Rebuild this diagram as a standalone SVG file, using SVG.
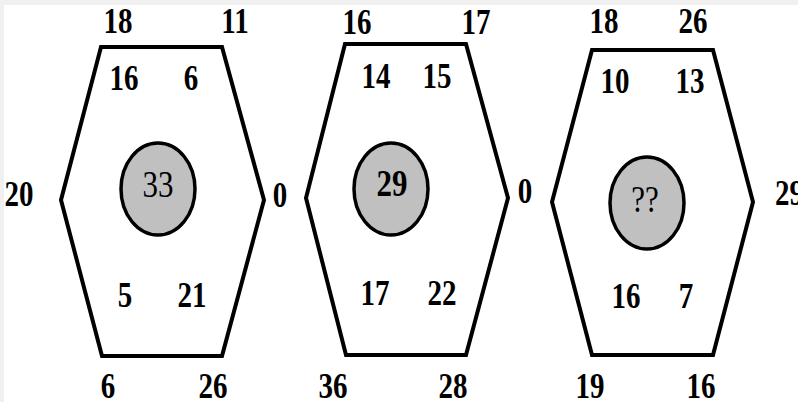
<svg xmlns="http://www.w3.org/2000/svg" width="798" height="402" viewBox="0 0 798 402">
<style>
.hex{fill:#fff;stroke:#000;stroke-width:4;stroke-linejoin:miter}
.core{fill:#c0c0c0;stroke:#000;stroke-width:3.5}
text{font-family:"Liberation Serif","Times New Roman",serif;text-anchor:middle;fill:#000}
.n{font-size:29px;font-weight:bold}
.c{font-size:31px}
.cb{font-size:31px;font-weight:bold}
</style>
<rect x="0" y="0" width="798" height="402" fill="#f0f0f0"/>
<rect x="4" y="5" width="794" height="397" fill="#fff"/>
<g id="hex1">
<polygon class="hex" points="101,47 222,47 264,200 222,356 102,356 61,200"/>
<ellipse class="core" cx="158" cy="189" rx="37" ry="46"/>
<text class="c" transform="matrix(1,0,0,1.2,158,197)">33</text>
<text class="n" transform="matrix(1,0,0,1.2,118,33)">18</text>
<text class="n" transform="matrix(1,0,0,1.2,235,33)">11</text>
<text class="n" transform="matrix(1,0,0,1.2,124,90)">16</text>
<text class="n" transform="matrix(1,0,0,1.2,191,90)">6</text>
<text class="n" transform="matrix(1,0,0,1.2,19,206)">20</text>
<text class="n" transform="matrix(1,0,0,1.2,280,207)">0</text>
<text class="n" transform="matrix(1,0,0,1.2,125,307)">5</text>
<text class="n" transform="matrix(1,0,0,1.2,192,307)">21</text>
<text class="n" transform="matrix(1,0,0,1.2,108,398)">6</text>
<text class="n" transform="matrix(1,0,0,1.2,213,398)">26</text>
</g>
<g id="hex2">
<polygon class="hex" points="345,44 466,44 508,198 466,355 346,355 306,198"/>
<ellipse class="core" cx="391" cy="189" rx="37" ry="46"/>
<text class="cb" transform="matrix(1,0,0,1.2,392,196)">29</text>
<text class="n" transform="matrix(1,0,0,1.2,357,34)">16</text>
<text class="n" transform="matrix(1,0,0,1.2,476,34)">17</text>
<text class="n" transform="matrix(1,0,0,1.2,376,88)">14</text>
<text class="n" transform="matrix(1,0,0,1.2,437,88)">15</text>
<text class="n" transform="matrix(1,0,0,1.2,525,203)">0</text>
<text class="n" transform="matrix(1,0,0,1.2,375,305)">17</text>
<text class="n" transform="matrix(1,0,0,1.2,442,305)">22</text>
<text class="n" transform="matrix(1,0,0,1.2,333,398)">36</text>
<text class="n" transform="matrix(1,0,0,1.2,453,398)">28</text>
</g>
<g id="hex3">
<polygon class="hex" points="592,50 713,50 753,202 713,355 592,355 552,202"/>
<ellipse class="core" cx="647" cy="203" rx="37" ry="46"/>
<text class="c" transform="matrix(1,0,0,1.2,645,212)">??</text>
<text class="n" transform="matrix(1,0,0,1.2,604,33)">18</text>
<text class="n" transform="matrix(1,0,0,1.2,693,33)">26</text>
<text class="n" transform="matrix(1,0,0,1.2,615,93)">10</text>
<text class="n" transform="matrix(1,0,0,1.2,690,93)">13</text>
<text class="n" transform="matrix(1,0,0,1.2,775,205)" style="text-anchor:start">29</text>
<text class="n" transform="matrix(1,0,0,1.2,626,308)">16</text>
<text class="n" transform="matrix(1,0,0,1.2,686,308)">7</text>
<text class="n" transform="matrix(1,0,0,1.2,590,398)">19</text>
<text class="n" transform="matrix(1,0,0,1.2,701,398)">16</text>
</g>
<g id="connectors"/>
</svg>
